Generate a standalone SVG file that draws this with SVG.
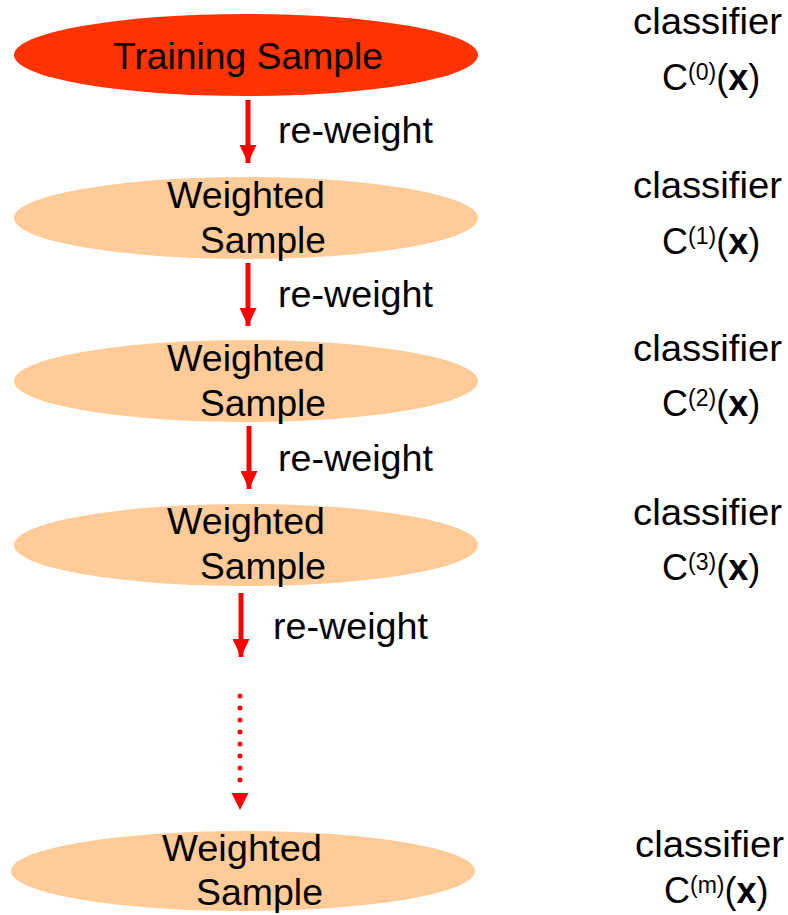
<svg xmlns="http://www.w3.org/2000/svg" width="788" height="915" viewBox="0 0 788 915">
  <defs>
    <marker id="head" viewBox="0 0 18 17" refX="18" refY="8.5" markerWidth="18" markerHeight="17" markerUnits="userSpaceOnUse" orient="auto">
      <path d="M0,0 L18,8.5 L0,17 Z" fill="#ff0000"/>
    </marker>
  </defs>
  <style>
    text { font-family: "Liberation Sans", Arial, sans-serif; font-size: 36px; fill: #000; }
    .start { fill: #ff3300; }
    .weighted { fill: #ffcc99; }
    .node text { text-anchor: end; }
    .flow { stroke: #ff0000; stroke-width: 5; fill: none; }
    .dots { stroke: #ff0000; stroke-width: 5; stroke-linecap: round; stroke-dasharray: 0 12; fill: none; }
    .sup { font-size: 23px; }
    .bold { font-weight: bold; }
  </style>

  <!-- sample nodes -->
  <g id="training-sample">
    <ellipse class="start" cx="246" cy="55" rx="232" ry="41"/>
    <text x="248" y="69" text-anchor="middle" textLength="270" lengthAdjust="spacingAndGlyphs">Training Sample</text>
  </g>
  <g id="weighted-sample-1" class="node">
    <ellipse class="weighted" cx="246" cy="218" rx="232" ry="41"/>
    <text x="325" y="208" textLength="158" lengthAdjust="spacingAndGlyphs">Weighted</text>
    <text x="326" y="253" textLength="126" lengthAdjust="spacingAndGlyphs">Sample</text>
  </g>
  <g id="weighted-sample-2" class="node">
    <ellipse class="weighted" cx="246" cy="381" rx="232" ry="41"/>
    <text x="325" y="371" textLength="158" lengthAdjust="spacingAndGlyphs">Weighted</text>
    <text x="326" y="416" textLength="126" lengthAdjust="spacingAndGlyphs">Sample</text>
  </g>
  <g id="weighted-sample-3" class="node">
    <ellipse class="weighted" cx="246" cy="545" rx="232" ry="41"/>
    <text x="325" y="534" textLength="158" lengthAdjust="spacingAndGlyphs">Weighted</text>
    <text x="326" y="579" textLength="126" lengthAdjust="spacingAndGlyphs">Sample</text>
  </g>
  <g id="weighted-sample-m" class="node">
    <ellipse class="weighted" cx="243" cy="871" rx="232" ry="40"/>
    <text x="322" y="861" textLength="160" lengthAdjust="spacingAndGlyphs">Weighted</text>
    <text x="323" y="905" textLength="127" lengthAdjust="spacingAndGlyphs">Sample</text>
  </g>

  <!-- classifier labels -->
  <g id="classifier-0">
    <text x="633" y="34" textLength="149" lengthAdjust="spacingAndGlyphs">classifier</text>
    <text x="662" y="90">C<tspan class="sup" dy="-10">(0)</tspan><tspan dy="10">(</tspan><tspan class="bold">x</tspan>)</text>
  </g>
  <g id="classifier-1">
    <text x="633" y="198" textLength="149" lengthAdjust="spacingAndGlyphs">classifier</text>
    <text x="662" y="254">C<tspan class="sup" dy="-10">(1)</tspan><tspan dy="10">(</tspan><tspan class="bold">x</tspan>)</text>
  </g>
  <g id="classifier-2">
    <text x="633" y="361" textLength="149" lengthAdjust="spacingAndGlyphs">classifier</text>
    <text x="662" y="416">C<tspan class="sup" dy="-10">(2)</tspan><tspan dy="10">(</tspan><tspan class="bold">x</tspan>)</text>
  </g>
  <g id="classifier-3">
    <text x="633" y="525" textLength="149" lengthAdjust="spacingAndGlyphs">classifier</text>
    <text x="662" y="580">C<tspan class="sup" dy="-10">(3)</tspan><tspan dy="10">(</tspan><tspan class="bold">x</tspan>)</text>
  </g>
  <g id="classifier-m">
    <text x="635" y="857" textLength="149" lengthAdjust="spacingAndGlyphs">classifier</text>
    <text x="664" y="903">C<tspan class="sup" dy="-10">(m)</tspan><tspan dy="10">(</tspan><tspan class="bold">x</tspan>)</text>
  </g>

  <!-- re-weight connectors -->
  <g id="connectors">
    <line class="flow" x1="248" y1="100" x2="248" y2="163" marker-end="url(#head)"/>
    <line class="flow" x1="248" y1="263" x2="248" y2="326" marker-end="url(#head)"/>
    <line class="flow" x1="249" y1="426" x2="249" y2="489" marker-end="url(#head)"/>
    <line class="flow" x1="241" y1="593" x2="241" y2="657" marker-end="url(#head)"/>
    <line class="dots" x1="240" y1="696" x2="240" y2="784"/>
    <path d="M231.5,793 L248.5,793 L240,810 Z" fill="#ff0000"/>
    <text x="278" y="143" textLength="155" lengthAdjust="spacingAndGlyphs">re-weight</text>
    <text x="278" y="307" textLength="155" lengthAdjust="spacingAndGlyphs">re-weight</text>
    <text x="278" y="471" textLength="155" lengthAdjust="spacingAndGlyphs">re-weight</text>
    <text x="273" y="639" textLength="155" lengthAdjust="spacingAndGlyphs">re-weight</text>
  </g>
</svg>
